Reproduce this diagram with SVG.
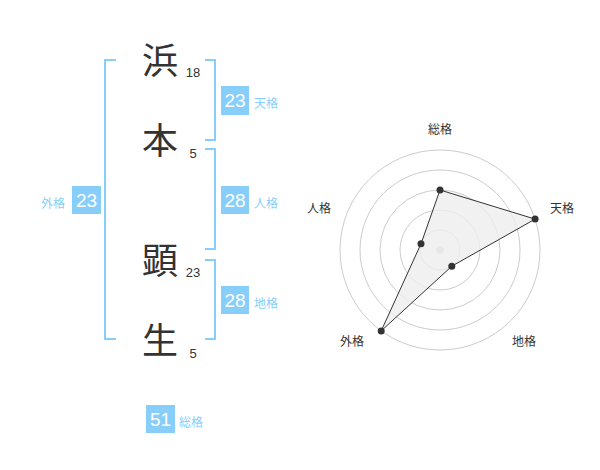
<svg xmlns="http://www.w3.org/2000/svg" width="600" height="470" viewBox="0 0 600 470">
<style>
.kanji{font-family:"Noto Sans CJK JP","Noto Sans CJK SC",sans-serif;font-size:36px;fill:#333;text-anchor:middle}
.stroke{font-family:"Liberation Sans",Arial,sans-serif;font-size:13px;fill:#333;text-anchor:middle}
.box{fill:#87cefa}
.boxnum{font-family:"Liberation Sans",Arial,sans-serif;font-size:19px;fill:#fff;text-anchor:middle}
.lbl{font-family:"Noto Sans CJK JP",sans-serif;font-size:12px;fill:#87cefa}
.br{fill:none;stroke:#87cefa;stroke-width:2}
.ring{fill:none;stroke:#cccccc;stroke-width:1}
.rlbl{font-family:"Noto Sans CJK JP",sans-serif;font-size:12px;fill:#333;text-anchor:middle}
.pt{fill:#333}
</style>
<rect width="600" height="470" fill="#fff"/>
<g id="brackets">
<path class="br" d="M116,60 H105 V339 H116"/>
<path class="br" d="M205,60 H215 V140 H205"/>
<path class="br" d="M205,149 H215 V249 H205"/>
<path class="br" d="M205,260 H215 V339 H205"/>
</g>
<g id="char1"><text class="kanji" x="160" y="74">浜</text><text class="stroke" x="193" y="77">18</text></g>
<g id="char2"><text class="kanji" x="160" y="154">本</text><text class="stroke" x="193" y="158">5</text></g>
<g id="char3"><text class="kanji" x="160" y="274">顕</text><text class="stroke" x="193" y="277">23</text></g>
<g id="char4"><text class="kanji" x="160" y="354">生</text><text class="stroke" x="193" y="358">5</text></g>
<g id="tenkaku"><rect class="box" x="221" y="86" width="28" height="29"/><text class="boxnum" x="235" y="107">23</text><text class="lbl" x="254" y="108">天格</text></g>
<g id="jinkaku"><rect class="box" x="221" y="186" width="28" height="28"/><text class="boxnum" x="235" y="207">28</text><text class="lbl" x="254" y="208">人格</text></g>
<g id="chikaku"><rect class="box" x="221" y="286" width="28" height="28"/><text class="boxnum" x="235" y="307">28</text><text class="lbl" x="254" y="308">地格</text></g>
<g id="gaikaku"><rect class="box" x="72" y="186" width="29" height="28"/><text class="boxnum" x="86.5" y="207">23</text><text class="lbl" x="41" y="208">外格</text></g>
<g id="soukaku"><rect class="box" x="146" y="405" width="29" height="28"/><text class="boxnum" x="160.5" y="426">51</text><text class="lbl" x="179" y="427">総格</text></g>
<g id="radar">
<circle class="ring" cx="440" cy="250" r="20"/>
<circle class="ring" cx="440" cy="250" r="40"/>
<circle class="ring" cx="440" cy="250" r="60"/>
<circle class="ring" cx="440" cy="250" r="80"/>
<circle class="ring" cx="440" cy="250" r="100"/>
<circle cx="440" cy="250" r="4" fill="#cccccc"/>
<polygon points="440,190 535.1,219.1 451.8,266.2 381.2,330.9 421,243.8" fill="#eeeeee" fill-opacity="0.8" stroke="#333" stroke-width="1"/>
<circle class="pt" cx="440" cy="190" r="3.5"/>
<circle class="pt" cx="535.1" cy="219.1" r="3.5"/>
<circle class="pt" cx="451.8" cy="266.2" r="3.5"/>
<circle class="pt" cx="381.2" cy="330.9" r="3.5"/>
<circle class="pt" cx="421" cy="243.8" r="3.5"/>
<text class="rlbl" x="440" y="134">総格</text>
<text class="rlbl" x="562" y="213">天格</text>
<text class="rlbl" x="524" y="346">地格</text>
<text class="rlbl" x="352" y="346">外格</text>
<text class="rlbl" x="319" y="213">人格</text>
</g>
</svg>
